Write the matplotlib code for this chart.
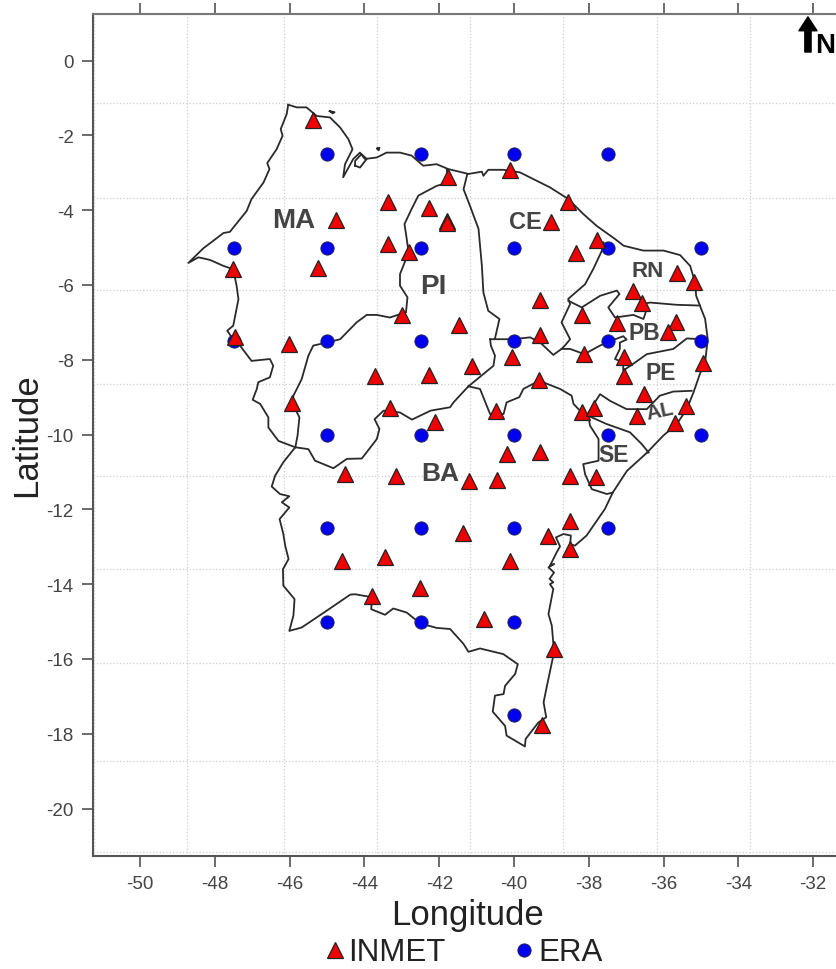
import numpy as np
import matplotlib
matplotlib.use("Agg")
import matplotlib.pyplot as plt

plt.rcParams['font.family'] = ['Liberation Sans', 'DejaVu Sans']
plt.rcParams['axes.unicode_minus'] = False

inmet_lon = [-45.37, -41.76, -43.37, -42.27, -41.79, -41.79, -44.76, -43.37, -42.81, -45.24, -47.51, -43.0,
             -41.47, -47.46, -46.02, -43.72, -42.27, -41.12, -45.94, -43.32, -42.11, -40.48, -44.52, -43.16,
             -41.2, -40.45, -40.19, -39.3, -38.5, -37.81, -41.36, -39.09, -38.5, -38.5, -44.6, -43.45,
             -40.11, -42.51, -43.8, -40.8, -38.93, -39.25, -40.11, -38.56, -39.01, -37.78, -38.34, -35.64,
             -35.19, -36.82, -36.58, -39.3, -38.18, -37.25, -35.67, -35.88, -39.3, -38.13, -40.05, -37.06,
             -34.95, -37.06, -39.33, -36.52, -38.18, -37.86, -36.71, -35.4, -35.69]
inmet_lat = [-1.59, -3.11, -3.78, -3.94, -4.29, -4.33, -4.26, -4.91, -5.12, -5.55, -5.58, -6.81,
             -7.07, -7.39, -7.58, -8.44, -8.41, -8.17, -9.16, -9.29, -9.67, -9.37, -11.06, -11.11,
             -11.25, -11.21, -10.52, -10.47, -11.11, -11.14, -12.63, -12.71, -12.31, -13.06, -13.38, -13.28,
             -13.38, -14.1, -14.32, -14.93, -15.74, -17.77, -2.93, -3.78, -4.32, -4.8, -5.15, -5.68,
             -5.92, -6.16, -6.48, -6.4, -6.81, -7.02, -6.99, -7.26, -7.34, -7.85, -7.93, -7.93,
             -8.09, -8.44, -8.54, -8.92, -9.4, -9.29, -9.51, -9.24, -9.69]

era_lon = [-45, -42.5, -40, -37.5,
           -47.5, -45, -42.5, -40, -37.5, -35,
           -47.5, -45, -42.5, -40, -37.5, -35,
           -45, -42.5, -40, -37.5, -35,
           -45, -42.5, -40, -37.5,
           -45, -42.5, -40,
           -40]
era_lat = [-2.5, -2.5, -2.5, -2.5,
           -5, -5, -5, -5, -5, -5,
           -7.5, -7.5, -7.5, -7.5, -7.5, -7.5,
           -10, -10, -10, -10, -10,
           -12.5, -12.5, -12.5, -12.5,
           -15, -15, -15,
           -17.5]

# state outlines, lon/lat
west_border = [(-46.04, -1.18), (-46.08, -1.43), (-46.24, -1.83), (-46.19, -2.01), (-46.35, -2.37), (-46.6, -2.74),
               (-46.54, -2.9), (-46.7, -3.26), (-47.02, -3.7), (-47.15, -4.02), (-47.6, -4.58), (-47.77, -4.61),
               (-48.31, -5.02), (-48.71, -5.41), (-48.44, -5.26), (-48.13, -5.33), (-47.77, -5.49), (-47.51, -5.58),
               (-47.42, -6.02), (-47.37, -6.38), (-47.51, -7.09), (-47.67, -7.22), (-47.55, -7.4), (-47.33, -7.62),
               (-47.02, -8.03), (-46.53, -7.98), (-46.44, -8.16), (-46.53, -8.47), (-46.84, -8.6), (-46.88, -8.78),
               (-46.99, -9.07), (-46.79, -9.18), (-46.57, -9.54), (-46.57, -9.81), (-46.3, -10.17), (-45.85, -10.34)]
ba_south = [(-45.85, -10.34), (-46.17, -10.74), (-46.39, -11.1), (-46.48, -11.39), (-46.26, -11.59), (-46.01, -11.65),
            (-46.21, -11.81), (-46.01, -11.95), (-46.27, -12.26), (-46.17, -12.66), (-46.12, -12.97), (-46.03, -13.33),
            (-46.18, -13.6), (-46.17, -14.04), (-45.87, -14.4), (-45.9, -14.84), (-46.01, -15.25), (-45.68, -15.16),
            (-45.01, -14.71), (-44.38, -14.28), (-44.25, -14.27), (-43.8, -14.35), (-43.82, -14.67), (-43.45, -14.82),
            (-43.23, -14.65), (-42.87, -14.76), (-42.51, -15.05), (-42.07, -15.17), (-41.71, -15.2), (-41.35, -15.6),
            (-41.22, -15.81), (-40.91, -15.72), (-40.29, -15.87), (-39.9, -16.14), (-39.97, -16.4), (-40.24, -16.72),
            (-40.28, -16.94), (-40.51, -16.98), (-40.57, -17.41), (-40.24, -17.79), (-40.2, -18.05), (-39.71, -18.34),
            (-39.69, -18.14), (-39.35, -17.7), (-39.14, -17.56), (-39.21, -17.16), (-39.11, -16.67), (-38.93, -15.82),
            (-38.99, -15.11), (-39.08, -14.8), (-38.95, -14.13), (-39.04, -14.0), (-38.95, -13.95), (-39.05, -13.86),
            (-38.93, -13.69), (-39.08, -13.55), (-38.93, -13.46), (-39.04, -13.51), (-38.86, -13.15), (-38.77, -12.99),
            (-38.88, -12.75), (-38.68, -12.66), (-38.48, -12.7), (-38.5, -12.93), (-38.37, -12.97), (-38.06, -12.7),
            (-37.57, -11.99), (-37.36, -11.55), (-36.98, -10.97), (-36.45, -10.49)]
east_coast = [(-36.45, -10.49), (-36.27, -10.3), (-36.01, -10.03), (-35.65, -9.72), (-35.38, -9.32), (-35.2, -8.87),
              (-35.03, -8.38), (-34.89, -8.07), (-34.82, -7.45), (-34.89, -6.91), (-35.03, -6.55), (-35.13, -6.29),
              (-35.16, -5.93), (-35.29, -5.49), (-35.56, -5.2), (-36.0, -5.08), (-36.54, -5.08), (-37.07, -4.95),
              (-37.3, -4.77), (-37.79, -4.42), (-38.15, -4.1), (-38.55, -3.7), (-39.04, -3.39), (-39.84, -2.99),
              (-40.29, -2.92), (-40.69, -2.92), (-40.82, -3.08), (-40.86, -2.97), (-41.22, -3.03)]
north_coast = [(-41.22, -3.03), (-41.76, -2.9), (-42.07, -2.77), (-42.43, -2.81), (-42.74, -2.54), (-43.05, -2.46),
               (-43.41, -2.46), (-43.67, -2.59), (-43.99, -2.63), (-44.12, -2.46), (-44.3, -2.63), (-44.57, -3.12),
               (-44.52, -2.77), (-44.32, -2.37), (-44.43, -2.1), (-44.65, -1.79), (-44.92, -1.52), (-45.28, -1.48),
               (-45.55, -1.25), (-45.81, -1.25), (-46.04, -1.18)]
ma_pi = [(-41.8, -2.9), (-41.76, -3.26), (-42.07, -3.35), (-42.56, -3.61), (-42.74, -3.97), (-42.93, -4.37),
         (-42.87, -4.77), (-42.82, -5.13), (-43.05, -5.71), (-43.05, -6.02), (-42.85, -6.33), (-42.89, -6.73),
         (-43.32, -6.87), (-43.67, -6.8), (-43.94, -6.8), (-44.21, -7.0), (-44.65, -7.45), (-45.01, -7.54),
         (-45.37, -7.62), (-45.5, -7.89), (-45.68, -8.52), (-45.9, -8.96), (-45.94, -9.14), (-45.74, -9.54),
         (-45.79, -10.03), (-45.85, -10.34)]
pi_ba = [(-45.85, -10.34), (-45.5, -10.39), (-45.32, -10.7), (-44.83, -10.9), (-44.47, -10.65), (-44.07, -10.64),
         (-43.67, -10.12), (-43.6, -9.85), (-43.73, -9.59), (-43.49, -9.36), (-43.05, -9.41), (-42.73, -9.6),
         (-42.23, -9.36), (-41.71, -9.27), (-41.62, -9.14), (-41.22, -8.71)]
pi_ce = [(-41.25, -3.03), (-41.35, -3.44), (-41.18, -3.88), (-40.95, -4.5), (-40.86, -5.49), (-40.82, -6.2),
         (-40.69, -6.69), (-40.39, -6.91), (-40.51, -7.43)]
pi_pe = [(-41.22, -8.71), (-40.55, -8.16), (-40.51, -7.89), (-40.62, -7.62), (-40.64, -7.45)]
ce_pe = [(-40.64, -7.45), (-40.02, -7.45), (-39.57, -7.4), (-39.3, -7.54), (-38.95, -7.87), (-38.73, -7.71),
         (-38.5, -7.71), (-38.12, -7.85), (-37.7, -7.62), (-37.48, -7.52), (-37.08, -7.37), (-36.99, -7.46),
         (-37.17, -7.54), (-37.17, -7.71), (-37.3, -7.98), (-37.08, -8.07), (-37.08, -8.29), (-36.76, -8.07),
         (-36.45, -7.85), (-35.74, -7.71), (-35.38, -7.43), (-34.98, -7.45)]
ce_rn = [(-37.61, -4.86), (-37.65, -5.08), (-37.88, -5.57), (-38.1, -5.98), (-38.55, -6.37), (-38.5, -6.51),
         (-38.73, -7.0), (-38.5, -7.45), (-38.64, -7.62), (-38.73, -7.71)]
rn_pb = [(-38.55, -6.42), (-38.19, -6.6), (-37.7, -6.29), (-37.25, -6.15), (-37.18, -6.24), (-37.48, -6.6),
         (-37.3, -6.87), (-36.81, -6.8), (-36.54, -6.91), (-36.45, -6.64), (-36.58, -6.51), (-36.36, -6.47),
         (-35.65, -6.53), (-35.03, -6.55)]
ba_pe = [(-41.22, -8.71), (-40.91, -8.78), (-40.73, -9.23), (-40.64, -9.45), (-40.28, -9.45), (-40.2, -9.14),
         (-39.86, -9.0), (-39.75, -8.78), (-39.33, -8.56), (-38.77, -8.78), (-38.46, -8.96), (-38.41, -9.18),
         (-38.19, -9.41), (-38.01, -9.5)]
pe_al = [(-38.01, -9.41), (-37.7, -8.92), (-37.43, -9.1), (-36.99, -9.32), (-36.45, -9.32), (-36.1, -8.96),
         (-35.74, -8.85), (-35.25, -8.83)]
al_se = [(-38.01, -9.5), (-37.52, -9.72), (-36.9, -9.94), (-36.59, -10.25), (-36.4, -10.48)]
ba_se = [(-38.01, -9.5), (-37.97, -9.76), (-37.74, -10.12), (-37.74, -10.7), (-38.15, -10.79), (-38.1, -11.06),
         (-37.92, -11.46), (-37.52, -11.59), (-37.36, -11.55)]
sao_luis = [(-44.25, -2.81), (-44.12, -2.86), (-43.94, -2.63), (-44.08, -2.5), (-44.25, -2.68), (-44.25, -2.81)]
islet_1 = [(-43.66, -2.35), (-43.62, -2.4), (-43.6, -2.33), (-43.66, -2.35)]
islet_2 = [(-44.93, -1.35), (-44.85, -1.41), (-44.8, -1.38), (-44.93, -1.35)]
outlines = [west_border, ba_south, east_coast, north_coast, ma_pi, pi_ba, pi_ce, pi_pe, ce_pe, ce_rn, rn_pb,
            ba_pe, pe_al, al_se, ba_se, sao_luis, islet_1, islet_2]

state_names = ['MA', 'PI', 'CE', 'RN', 'PB', 'PE', 'AL', 'SE', 'BA']
state_lon = [-45.9, -42.17, -39.7, -36.42, -36.52, -36.07, -36.1, -37.35, -41.98]
state_lat = [-4.27, -6.03, -4.29, -5.6, -7.26, -8.33, -9.37, -10.53, -11.03]
state_size = [20, 20, 17, 16, 16.5, 16.5, 15, 16.5, 19]
state_rot = [0, 0, 0, 0, 0, 0, 12, 0, 0]

xticks = np.arange(-50, -31, 2)
yticks = np.arange(-20, 1, 2)
xgrid = [-51.23, -48.74, -46.15, -43.66, -41.17, -38.68, -36.18, -33.69]
ygrid = [-21.16, -18.73, -16.11, -13.6, -11.11, -8.65, -6.14, -3.68, -1.14, 1.24]

fig = plt.figure(figsize=(8.36, 9.7), dpi=100)
ax = fig.add_axes([93 / 836, (970 - 857) / 970, 1 - 93 / 836, (857 - 14.5) / 970])

for line in outlines:
    pts = np.array(line)
    ax.plot(pts[:, 0], pts[:, 1], color='#2a2a2a', lw=1.3, zorder=2, solid_joinstyle='round')

ax.plot(era_lon, era_lat, ls='none', marker='o', ms=9.5, mfc='#0000f0', mec='#20205a', mew=0.7, zorder=3, label='ERA')
ax.plot(inmet_lon, inmet_lat, ls='none', marker='^', ms=11.5, mfc='#f00000', mec='#222222', mew=0.9, zorder=4, label='INMET')

for name, lon, lat, size, rot in zip(state_names, state_lon, state_lat, state_size, state_rot):
    ax.text(lon, lat, name, fontsize=size, fontweight='bold', color='#444444', ha='center', va='center',
            rotation=rot, zorder=5)

ax.set_xlim(-51.26, -31.39)
ax.set_ylim(-21.27, 1.26)
ax.set_xticks(xticks)
ax.set_yticks(yticks)
ax.set_xticks(xgrid, minor=True)
ax.set_yticks(ygrid, minor=True)
ax.grid(which='minor', color='#cfcfcf', ls=':', lw=0.9)
ax.set_axisbelow(True)
ax.tick_params(which='minor', length=0)
ax.tick_params(which='major', direction='out', length=8, width=1.1, color='#444444', top=True,
               labelsize=13.5, labelcolor='#444444', pad=6)
ax.spines['right'].set_visible(False)
for side in ['left', 'bottom', 'top']:
    ax.spines[side].set_linewidth(1.5)
    ax.spines[side].set_color('#555555')
ax.spines['top'].set_color('#777777')

fig.text(467 / 836, 1 - 916 / 970, 'Longitude', fontsize=25, color='#222222', ha='center', va='center')
fig.text(27 / 836, 1 - 435 / 970, 'Latitude', fontsize=25, color='#222222', ha='center', va='center', rotation=90)

# north arrow
ax.annotate('', xy=(-32.14, 1.17), xytext=(-32.14, 0.23),
            arrowprops=dict(width=4.5, headwidth=13, headlength=10, shrink=0, color='black'), zorder=6)
ax.text(-31.95, 0.23, 'N', fontsize=20, fontweight='bold', color='black', ha='left', va='baseline', clip_on=False)

handles, labels = ax.get_legend_handles_labels()
leg = fig.legend(handles[::-1], labels[::-1], loc='center', bbox_to_anchor=(461.5 / 836, 1 - 953.5 / 970), ncol=2,
                 frameon=False, fontsize=22.5, handletextpad=0.0, columnspacing=2.05, handlelength=0.9,
                 labelcolor='#222222', borderpad=0, borderaxespad=0)

fig.savefig('out.png', dpi=100)
